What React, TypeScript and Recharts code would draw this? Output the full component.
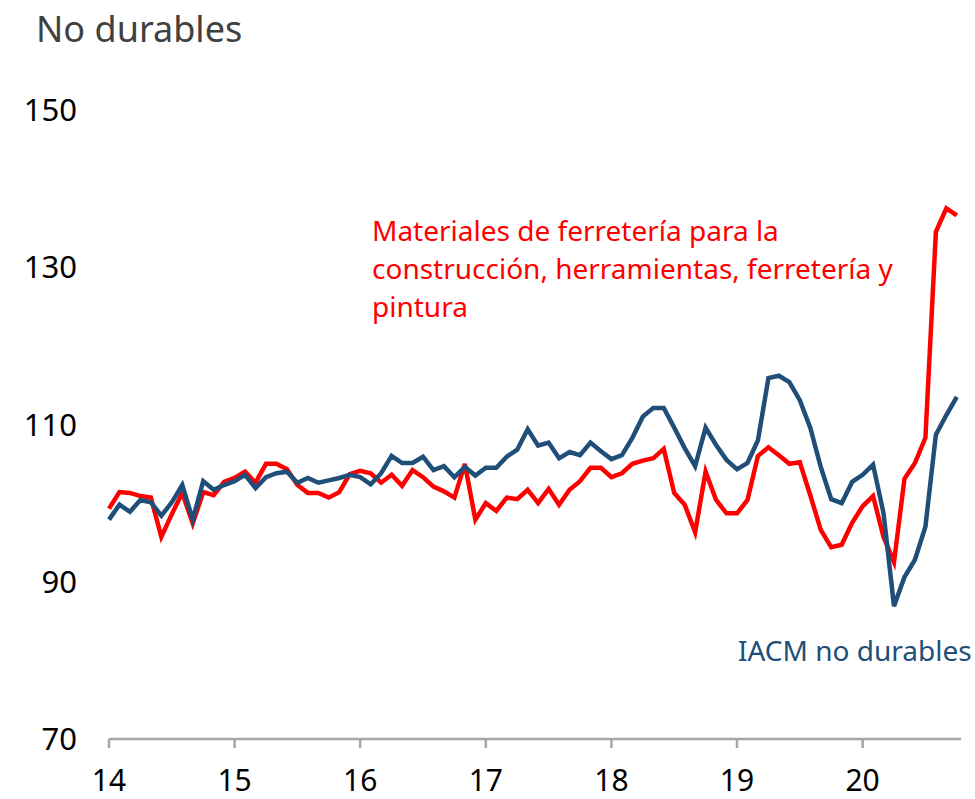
import React from 'react'
import { LineChart, Line, XAxis, YAxis } from 'recharts'

// monthly index, Jan 2014 .. Oct 2020
const ferreteria = [
  99.3, 101.4, 101.3, 100.9, 100.7, 95.7, 98.6, 101.3, 97.4, 101.4, 101.0, 102.7,
  103.2, 104.0, 102.6, 105.0, 105.0, 104.3, 102.3, 101.3, 101.3, 100.7, 101.4, 103.7,
  104.1, 103.8, 102.6, 103.6, 102.2, 104.2, 103.3, 102.1, 101.5, 100.7, 105.0, 97.9,
  100.0, 99.0, 100.7, 100.5, 101.7, 100.0, 101.8, 99.8, 101.7, 102.8, 104.5, 104.5,
  103.3, 103.8, 105.0, 105.4, 105.7, 106.9, 101.3, 99.8, 96.3, 104.0, 100.4, 98.7,
  98.7, 100.4, 106.0, 107.1, 106.1, 105.0, 105.2, 101.0, 96.6, 94.4, 94.7, 97.5,
  99.6, 100.9, 95.7, 92.5, 103.1, 105.1, 108.3, 134.5, 137.5, 136.6,
]

const iacmNoDurables = [
  97.9, 99.8, 98.9, 100.4, 100.1, 98.4, 100.1, 102.3, 97.9, 102.8, 101.7, 102.3,
  102.8, 103.6, 101.9, 103.3, 103.8, 104.0, 102.6, 103.2, 102.6, 102.9, 103.2, 103.6,
  103.3, 102.4, 103.8, 106.0, 105.1, 105.1, 105.9, 104.2, 104.7, 103.3, 104.6, 103.5,
  104.5, 104.5, 105.9, 106.8, 109.4, 107.3, 107.7, 105.7, 106.5, 106.1, 107.7, 106.6,
  105.6, 106.1, 108.3, 111.0, 112.1, 112.1, 109.6, 107.0, 104.7, 109.6, 107.4, 105.5,
  104.3, 105.1, 108.0, 115.9, 116.2, 115.4, 113.1, 109.6, 104.6, 100.5, 100.0, 102.7,
  103.6, 104.9, 98.7, 86.9, 90.6, 92.8, 97.0, 108.7, 111.2, 113.5,
]

const yearLabels = ['14', '15', '16', '17', '18', '19', '20']
const yTicks = [70, 90, 110, 130, 150]

const data = ferreteria.map((v, i) => ({ m: i, ferreteria: v, iacm: iacmNoDurables[i] }))
const xTicks = yearLabels.map((_, i) => i * 12)

const FONT = '"Noto Sans", sans-serif'

export default function App() {
  return (
    <div style={{ position: 'absolute', left: 0, top: 0, width: 975, height: 799, background: '#fff', fontFamily: FONT }}>
      <LineChart
        width={975}
        height={799}
        data={data}
        margin={{ top: 110, right: 14, bottom: 0, left: 0 }}
      >
        <XAxis
          dataKey="m"
          type="number"
          domain={[0, 81.4]}
          ticks={xTicks}
          tickFormatter={(v: number) => yearLabels[v / 12]}
          height={60}
          axisLine={{ stroke: '#a6a6a6', strokeWidth: 2.5 }}
          tickLine={{ stroke: '#a6a6a6', strokeWidth: 2.5 }}
          tickSize={9}
          tickMargin={22}
          tick={{ fill: '#000', fontSize: 30, fontFamily: FONT }}
        />
        <YAxis
          domain={[70, 150]}
          ticks={yTicks}
          width={109}
          axisLine={false}
          tickLine={false}
          tickSize={0}
          tickMargin={32}
          tick={{ fill: '#000', fontSize: 31, fontFamily: FONT }}
        />
        <Line
          type="linear"
          dataKey="ferreteria"
          stroke="#ff0000"
          strokeWidth={4.5}
          dot={false}
          isAnimationActive={false}
        />
        <Line
          type="linear"
          dataKey="iacm"
          stroke="#1f4e79"
          strokeWidth={4.5}
          dot={false}
          isAnimationActive={false}
        />
      </LineChart>
      <svg width={975} height={799} style={{ position: 'absolute', left: 0, top: 0, pointerEvents: 'none' }}>
        <text x={36} y={42} fontSize={36} fill="#404040" fontFamily={FONT}>No durables</text>
        <text fontSize={28} fill="#ff0000" fontFamily={FONT}>
          <tspan x={372} y={241}>Materiales de ferretería para la</tspan>
          <tspan x={372} y={279}>construcción, herramientas, ferretería y</tspan>
          <tspan x={372} y={317}>pintura</tspan>
        </text>
        <text x={738} y={661} fontSize={28} fill="#1f4e79" fontFamily={FONT}>IACM no durables</text>
      </svg>
    </div>
  )
}
